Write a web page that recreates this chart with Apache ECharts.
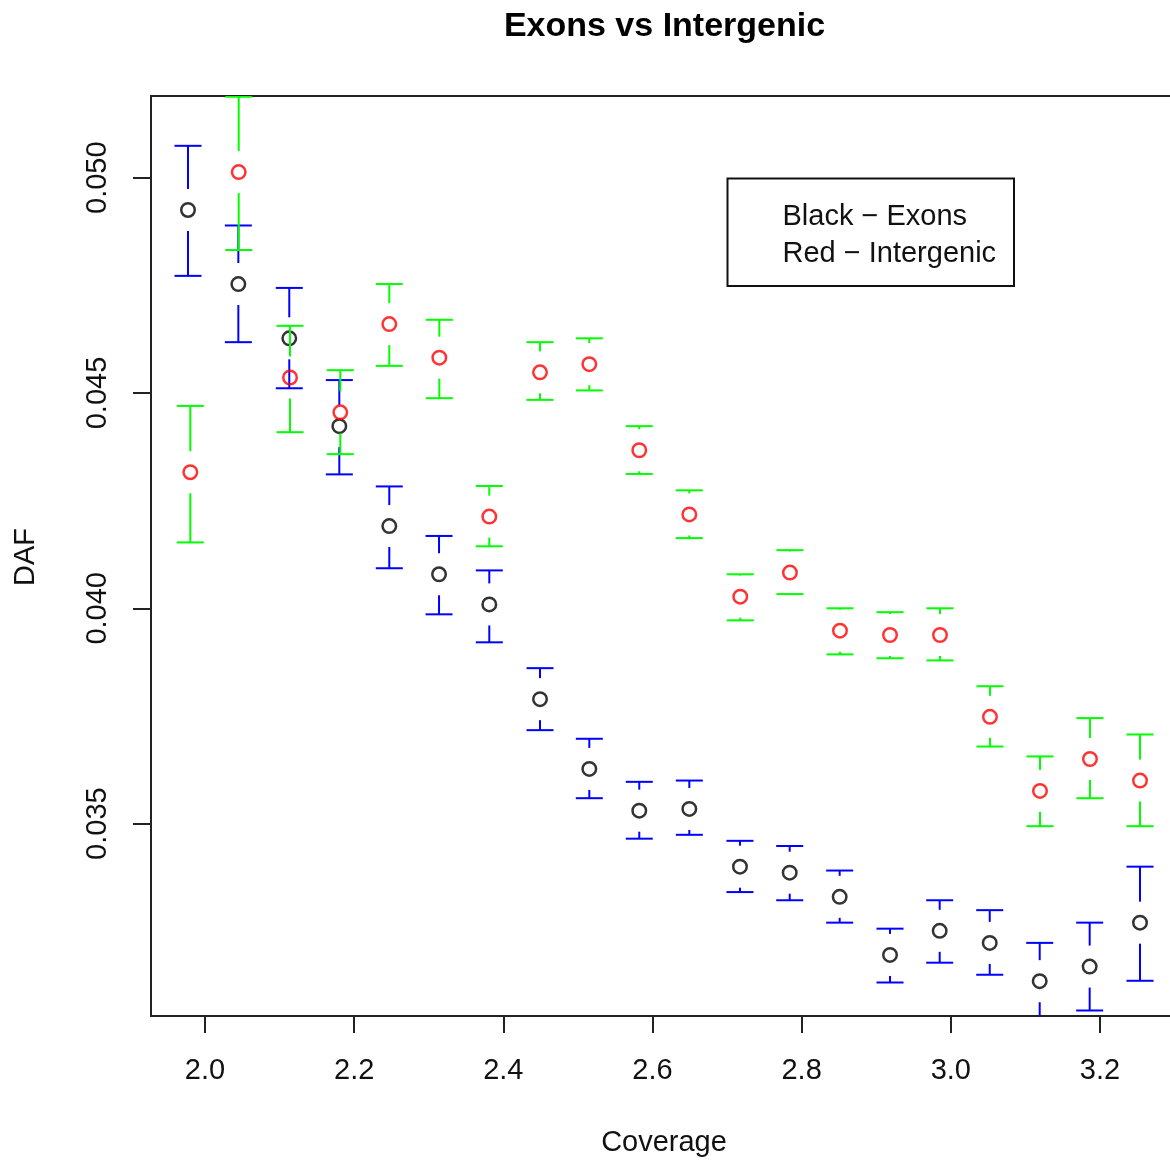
<!DOCTYPE html>
<html>
<head>
<meta charset="utf-8">
<script src="https://cdn.jsdelivr.net/npm/echarts@6/dist/echarts.min.js"></script>
<style>
  html, body { margin: 0; padding: 0; background: #fff; overflow: hidden; width: 1170px; height: 1160px; }
  #chart { width: 1200px; height: 1160px; }
</style>
</head>
<body>
<div id="chart"></div>
<script>
// ---- data ----
const coverageExons = [1.9772, 2.0447, 2.1130, 2.1801, 2.2471, 2.3138, 2.3812, 2.4492, 2.5153, 2.5823,
                       2.6494, 2.7173, 2.7840, 2.8510, 2.9185, 2.9851, 3.0522, 3.1192, 3.1862, 3.2537];
const dafExons   = [0.04925, 0.04753, 0.04627, 0.04423, 0.04191, 0.04079, 0.04009, 0.03789, 0.03627, 0.03530,
                    0.03534, 0.03400, 0.03386, 0.03330, 0.03195, 0.03251, 0.03223, 0.03134, 0.03168, 0.03270];
const exonsLower = [0.04772, 0.04618, 0.04511, 0.04311, 0.04093, 0.03986, 0.03921, 0.03717, 0.03559, 0.03465,
                    0.03474, 0.03341, 0.03322, 0.03270, 0.03131, 0.03177, 0.03149, 0.03044, 0.03066, 0.03135];
const exonsUpper = [0.05074, 0.04889, 0.04744, 0.04530, 0.04283, 0.04168, 0.04088, 0.03861, 0.03697, 0.03597,
                    0.03600, 0.03460, 0.03448, 0.03391, 0.03256, 0.03322, 0.03299, 0.03223, 0.03270, 0.03400];

const coverageIntergenic = [1.9803, 2.0452, 2.1140, 2.1814, 2.2471, 2.3142, 2.3812, 2.4492, 2.5153, 2.5823,
                            2.6494, 2.7177, 2.7843, 2.8514, 2.9185, 2.9855, 3.0525, 3.1196, 3.1866, 3.2537];
const dafIntergenic   = [0.04316, 0.05013, 0.04536, 0.04455, 0.04660, 0.04582, 0.04213, 0.04548, 0.04567, 0.04367,
                         0.04218, 0.04027, 0.04083, 0.03948, 0.03938, 0.03938, 0.03748, 0.03576, 0.03650, 0.03600];
const intergenicLower = [0.04153, 0.04832, 0.04409, 0.04358, 0.04563, 0.04488, 0.04144, 0.04484, 0.04506, 0.04312,
                         0.04163, 0.03972, 0.04033, 0.03893, 0.03884, 0.03879, 0.03679, 0.03494, 0.03559, 0.03494];
const intergenicUpper = [0.04470, 0.05188, 0.04656, 0.04553, 0.04753, 0.04670, 0.04284, 0.04618, 0.04627, 0.04423,
                         0.04274, 0.04079, 0.04135, 0.04000, 0.03991, 0.04000, 0.03819, 0.03656, 0.03745, 0.03707];

const xTicks = [2.0, 2.2, 2.4, 2.6, 2.8, 3.0, 3.2];
const yTicks = [0.035, 0.040, 0.045, 0.050];

const titleText = 'Exons vs Intergenic';
const xName = 'Coverage';
const yName = 'DAF';
const legendLines = ['Black \u2212 Exons', 'Red \u2212 Intergenic'];

// ---- chart ----
const FONT = '"Liberation Sans", Arial, Helvetica, sans-serif';
const chart = echarts.init(document.getElementById('chart'), null, { renderer: 'canvas' });

function errorBars(color) {
  return function (params, api) {
    const x = api.value(0);
    const lo = api.coord([x, api.value(1)]);
    const hi = api.coord([x, api.value(2)]);
    const mid = api.coord([x, api.value(3)]);
    const hw = 13.5, gap = 21;
    const st = { stroke: color, lineWidth: 2 };
    const children = [
      { type: 'line', shape: { x1: hi[0] - hw, y1: hi[1], x2: hi[0] + hw, y2: hi[1] }, style: st },
      { type: 'line', shape: { x1: lo[0] - hw, y1: lo[1], x2: lo[0] + hw, y2: lo[1] }, style: st }
    ];
    if (hi[1] < mid[1] - gap) {
      children.push({ type: 'line', shape: { x1: hi[0], y1: hi[1], x2: hi[0], y2: mid[1] - gap }, style: st });
    }
    if (lo[1] > mid[1] + gap) {
      children.push({ type: 'line', shape: { x1: lo[0], y1: mid[1] + gap, x2: lo[0], y2: lo[1] }, style: st });
    }
    return { type: 'group', children: children };
  };
}

const exonBarData = coverageExons.map((x, i) => [x, exonsLower[i], exonsUpper[i], dafExons[i]]);
const interBarData = coverageIntergenic.map((x, i) => [x, intergenicLower[i], intergenicUpper[i], dafIntergenic[i]]);
const exonPts = coverageExons.map((x, i) => [x, dafExons[i]]);
const interPts = coverageIntergenic.map((x, i) => [x, dafIntergenic[i]]);

const option = {
  animation: false,
  backgroundColor: '#ffffff',
  grid: {
    left: 151, top: 96, width: 1027, height: 920,
    show: true, borderColor: '#222', borderWidth: 2, backgroundColor: 'transparent'
  },
  xAxis: {
    type: 'value',
    min: 1.92759, max: 3.30464,
    axisLine: { show: false },
    splitLine: { show: false },
    axisTick: { show: true, length: 17, customValues: xTicks, lineStyle: { color: '#222', width: 2 } },
    axisLabel: {
      customValues: xTicks, margin: 40, fontSize: 29, color: '#111', fontFamily: FONT,
      formatter: v => Number(v).toFixed(1)
    }
  },
  yAxis: {
    type: 'value',
    min: 0.030532, max: 0.051897,
    axisLine: { show: false },
    splitLine: { show: false },
    axisTick: { show: true, length: 18, customValues: yTicks, lineStyle: { color: '#222', width: 2 } },
    axisLabel: {
      customValues: yTicks, margin: 39, rotate: 90, fontSize: 29, color: '#111', fontFamily: FONT,
      formatter: v => Number(v).toFixed(3)
    }
  },
  series: [
    {
      type: 'custom', name: 'Exons CI', clip: true, z: 2,
      renderItem: errorBars('#0000ff'),
      encode: { x: 0, y: [1, 2, 3] },
      data: exonBarData
    },
    {
      type: 'scatter', name: 'Exons', clip: true, z: 3,
      symbol: 'circle', symbolSize: 13.5,
      itemStyle: { color: 'rgba(0,0,0,0)', borderColor: '#000', borderWidth: 2.5 },
      data: exonPts
    },
    {
      type: 'custom', name: 'Intergenic CI', clip: true, z: 4,
      renderItem: errorBars('#00ff00'),
      encode: { x: 0, y: [1, 2, 3] },
      data: interBarData
    },
    {
      type: 'scatter', name: 'Intergenic', clip: true, z: 5,
      symbol: 'circle', symbolSize: 13.5,
      itemStyle: { color: 'rgba(0,0,0,0)', borderColor: '#ff0000', borderWidth: 2.5 },
      data: interPts
    }
  ],
  graphic: [
    {
      type: 'text', x: 664.5, y: 27,
      style: { text: titleText, font: 'bold 34px ' + FONT, fill: '#000', align: 'center', verticalAlign: 'middle' }
    },
    {
      type: 'text', x: 664, y: 1143,
      style: { text: xName, font: '29px ' + FONT, fill: '#111', align: 'center', verticalAlign: 'middle' }
    },
    {
      type: 'text', x: 26, y: 557, rotation: Math.PI / 2,
      style: { text: yName, font: '29px ' + FONT, fill: '#111', align: 'center', verticalAlign: 'middle' }
    },
    {
      type: 'rect',
      shape: { x: 727.5, y: 178.5, width: 286.5, height: 107.5 },
      style: { fill: '#fff', stroke: '#111', lineWidth: 2 },
      z: 10
    },
    {
      type: 'text', x: 782.5, y: 217, z: 11,
      style: { text: legendLines[0], font: '29px ' + FONT, fill: '#111', align: 'left', verticalAlign: 'middle' }
    },
    {
      type: 'text', x: 782.5, y: 253.5, z: 11,
      style: { text: legendLines[1], font: '29px ' + FONT, fill: '#111', align: 'left', verticalAlign: 'middle' }
    }
  ]
};

chart.setOption(option);
</script>
</body>
</html>
